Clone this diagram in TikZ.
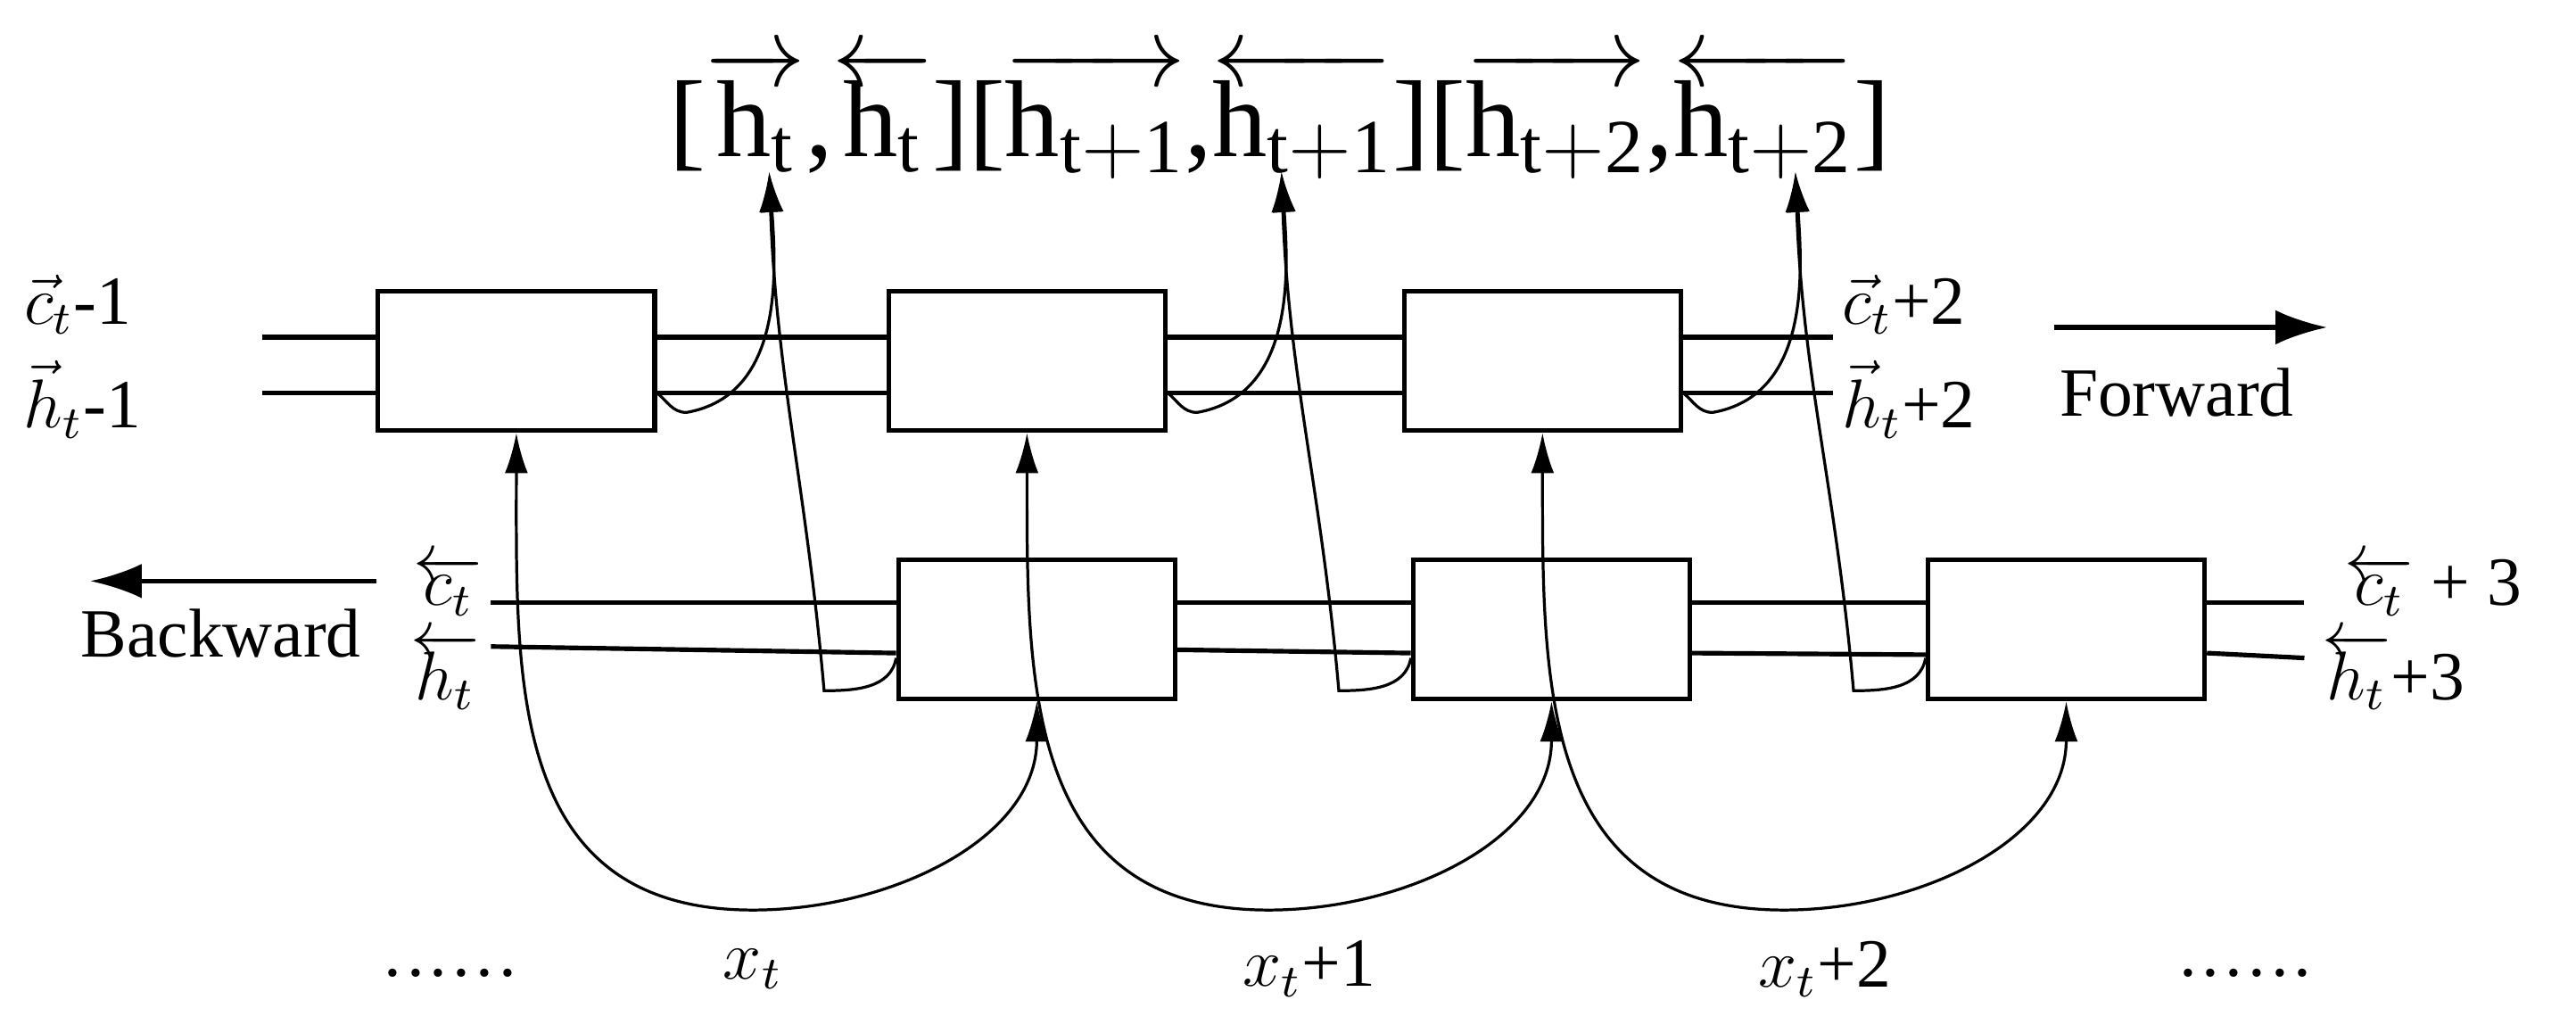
\documentclass[tikz,border=0pt]{standalone}
\usepackage{fontspec}
\setmainfont{Liberation Serif}
\usetikzlibrary{arrows.meta,calc}
\begin{document}
\begin{tikzpicture}[x=0.01cm,y=-0.01cm,
  cell/.style={draw,line width=0.8pt,minimum width=1.69cm,minimum height=0.85cm,inner sep=0},
  wire/.style={line width=0.8pt},
  thin/.style={line width=0.5pt},
  arr/.style={thin,-{Latex[length=7pt,width=4pt]}},
  lab/.style={font=\fontsize{12}{14}\selectfont,inner sep=0},
  big/.style={font=\fontsize{19}{22}\selectfont,inner sep=0}]
\useasboundingbox (0,0) rectangle (1574,631);
% cells
\node[cell] (f1) at (315.5,220.5) {};
\node[cell] (f2) at (627.5,220.5) {};
\node[cell] (f3) at (942.5,220.5) {};
\node[cell] (b1) at (633.5,384.5) {};
\node[cell] (b2) at (948,384.5) {};
\node[cell] (b3) at (1262.5,384.5) {};
% free ends
\coordinate (fc0) at (160,206); \coordinate (fh0) at (160,240);
\coordinate (fc4) at (1120,206); \coordinate (fh4) at (1120,240);
\coordinate (bc0) at (300,368); \coordinate (bh0) at (300,395);
\coordinate (bc4) at (1408,368); \coordinate (bh4) at (1408,402);
% forward wires
\draw[wire] (fc0) -- (fc0 -| f1.west); \draw[wire] (fh0) -- (fh0 -| f1.west);
\draw[wire] (fc0 -| f1.east) -- (fc0 -| f2.west); \draw[wire] (fh0 -| f1.east) -- (fh0 -| f2.west);
\draw[wire] (fc0 -| f2.east) -- (fc0 -| f3.west); \draw[wire] (fh0 -| f2.east) -- (fh0 -| f3.west);
\draw[wire] (fc4 -| f3.east) -- (fc4); \draw[wire] (fh4 -| f3.east) -- (fh4);
% backward wires
\draw[wire] (bc0) -- (bc0 -| b1.west); \draw[wire] (bh0) -- (b1.west |- 0,399);
\draw[wire] (bc0 -| b1.east) -- (bc0 -| b2.west); \draw[wire] (b1.east |- 0,397) -- (b2.west |- 0,399);
\draw[wire] (bc0 -| b2.east) -- (bc0 -| b3.west); \draw[wire] (b2.east |- 0,399) -- (b3.west |- 0,400);
\draw[wire] (bc4 -| b3.east) -- (bc4); \draw[wire] (b3.east |- 0,399) -- (bh4);
% output tips
\coordinate (o1) at (470,105); \coordinate (o2) at (783,105); \coordinate (o3) at (1097,105);
\foreach \f/\b/\o in {f1/b1/o1,f2/b2/o2,f3/b3/o3}{
  \draw[arr] (\f.east |- 0,240) to[out=-40,in=180] ++(18,12) to[out=10,in=-86] (\o);
  \draw[arr] (\b.west |- 0,402) to[out=-100,in=0] ++(-44,20) to[out=95,in=-88] (\o);
}
% inputs
\node[lab] (x1) at (460,592) {$x_t$};
\node[lab] (x2) at (800,592) {$x_t$+1};
\node[lab] (x3) at (1115,592) {$x_t$+2};
\coordinate (m1) at (460,556); \coordinate (m2) at (775,556); \coordinate (m3) at (1090,556);
\foreach \f/\b/\m in {f1/b1/m1,f2/b2/m2,f3/b3/m3}{
  \draw[arr] (\m) .. controls +(-150,0) and +(0,150) .. (\f.south);
  \draw[arr] (\m) to[out=0,in=-90] (\b.south);
}
\node[lab] at (275,600) {\textperiodcentered\textperiodcentered\textperiodcentered\textperiodcentered\textperiodcentered\textperiodcentered};
\node[lab] at (1372,600) {\textperiodcentered\textperiodcentered\textperiodcentered\textperiodcentered\textperiodcentered\textperiodcentered};
% labels
\node[big] (top) at (782,70) {[$\overrightarrow{\mathrm{h}_\mathrm{t}}$,$\overleftarrow{\mathrm{h}_\mathrm{t}}$][$\overrightarrow{\mathrm{h}_\mathrm{t+1}}$,$\overleftarrow{\mathrm{h}_\mathrm{t+1}}$][$\overrightarrow{\mathrm{h}_\mathrm{t+2}}$,$\overleftarrow{\mathrm{h}_\mathrm{t+2}}$]};
\node[lab,anchor=west] at (14,186) {$\vec{c}_t$-1};
\node[lab,anchor=west] at (14,244) {$\vec{h}_t$-1};
\node[lab,anchor=west] at (1125,186) {$\vec{c}_t$+2};
\node[lab,anchor=west] at (1125,244) {$\vec{h}_t$+2};
\node[lab,anchor=west] at (252,358) {$\overleftarrow{c_t}$};
\node[lab,anchor=west] at (250,410) {$\overleftarrow{h_t}$};
\node[lab,anchor=west] at (1432,358) {$\overleftarrow{c_t}$ + 3};
\node[lab,anchor=west] at (1418,410) {$\overleftarrow{h_t}$+3};
\coordinate (fa) at (1255,200); \coordinate (fb) at (1422,200);
\draw[wire,-{Latex[length=9pt,width=6pt]}] (fa) -- (fb);
\node[lab] at (1330,240) {Forward};
\coordinate (ba) at (230,355); \coordinate (bb) at (55,355);
\draw[wire,-{Latex[length=9pt,width=6pt]}] (ba) -- (bb);
\node[lab] at (135,387) {Backward};
\end{tikzpicture}
\end{document}
